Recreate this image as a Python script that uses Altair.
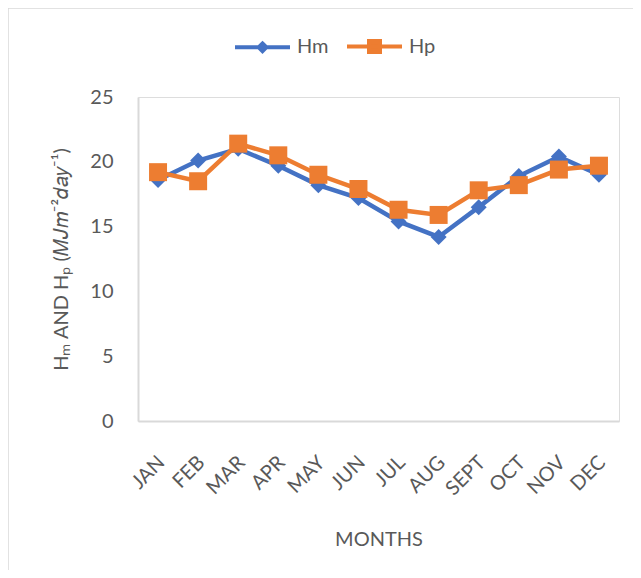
import altair as alt
import pandas as pd

months = ["JAN", "FEB", "MAR", "APR", "MAY", "JUN", "JUL", "AUG", "SEPT", "OCT", "NOV", "DEC"]
hm = [18.6, 20.1, 21.0, 19.7, 18.2, 17.2, 15.4, 14.2, 16.5, 18.9, 20.4, 19.0]
hp = [19.2, 18.5, 21.4, 20.5, 19.0, 17.9, 16.3, 15.9, 17.8, 18.2, 19.4, 19.7]
series = ["Hm", "Hp"]
colors = ["#4472C4", "#ED7D31"]
shapes = ["diamond", "square"]
marker_sizes = [256, 324]

rows = []
for name, vals in zip(series, [hm, hp]):
    for m, v in zip(months, vals):
        rows.append({"month": m, "series": name, "value": v})
df = pd.DataFrame(rows)

FONT = "Lato"
GREY = "#595959"
FRAME = "#D9D9D9"

x = alt.X("month:N", sort=months, scale=alt.Scale(domain=months),
          axis=alt.Axis(title="MONTHS", labelAngle=-45, labelAlign="right", labelBaseline="top",
                        labelPadding=31, labelOffset=-4, ticks=False, domainColor=FRAME, domainWidth=2,
                        labelColor=GREY, labelFontSize=20, labelFont=FONT,
                        titleColor=GREY, titleFontSize=20, titleFont=FONT, titleFontWeight="normal",
                        titleBaseline="alphabetic", titleY=124, grid=False))
y = alt.Y("value:Q", scale=alt.Scale(domain=[0, 25]),
          axis=alt.Axis(title="Hₘ AND Hₚ (𝑀𝐽𝑚⁻²𝑑𝑎𝑦⁻¹)", values=[0, 5, 10, 15, 20, 25],
                        ticks=False, domainColor=FRAME, domainWidth=2, grid=False,
                        labelColor=GREY, labelFontSize=20, labelFont=FONT, labelPadding=25,
                        titleColor=GREY, titleFontSize=20, titleFont=FONT, titleFontWeight="normal",
                        titleBaseline="alphabetic", titleX=-71, titleY=162, titleAngle=-90))

path_expr = ("datum.value == 'Hm' ? 'M-1,0H1M0,-0.14L0.14,0L0,0.14L-0.14,0Z' : "
             "'M-1,0H1M-0.2,-0.2H0.2V0.2H-0.2Z'")
col_expr = "scale('color', datum.value)"
legend = alt.Legend(title=None, orient="none", legendX=95, legendY=-80, direction="horizontal",
                    padding=0, symbolSize=3025, labelFontSize=20, labelFont=FONT, labelColor=GREY,
                    labelOffset=5, columnPadding=10,
                    symbolType=alt.ExprRef(expr=path_expr),
                    symbolFillColor=alt.ExprRef(expr=col_expr),
                    symbolStrokeColor=alt.ExprRef(expr=col_expr),
                    symbolStrokeWidth=4, symbolOpacity=1)

color = alt.Color("series:N", scale=alt.Scale(domain=series, range=colors), legend=legend)

lines = alt.Chart(df).mark_line(strokeWidth=4.5).encode(x=x, y=y, color=color)

point_layers = []
for name, shp, sz in zip(series, shapes, marker_sizes):
    point_layers.append(
        alt.Chart(df).transform_filter(alt.datum.series == name)
        .mark_point(filled=True, opacity=1, shape=shp, size=sz)
        .encode(x=x, y=y, color=color)
    )

frame_df = pd.DataFrame({"k": [0]})
frame_top = alt.Chart(frame_df).mark_rule(color=FRAME, strokeWidth=1.5).encode(
    x=alt.value(-130), x2=alt.value(495), y=alt.value(-89))
frame_left = alt.Chart(frame_df).mark_rule(color=FRAME, strokeWidth=1.5).encode(
    x=alt.value(-130), y=alt.value(-89), y2=alt.value(473))

chart = alt.layer(lines, *point_layers, frame_top, frame_left).properties(
    width=481, height=324,
    autosize=alt.AutoSizeParams(type="none"),
    padding={"left": 130, "top": 89, "right": 14, "bottom": 149},
).configure_view(stroke=None).configure(background="white")

chart.save("out.html", embed_options={"renderer": "svg", "actions": False})
